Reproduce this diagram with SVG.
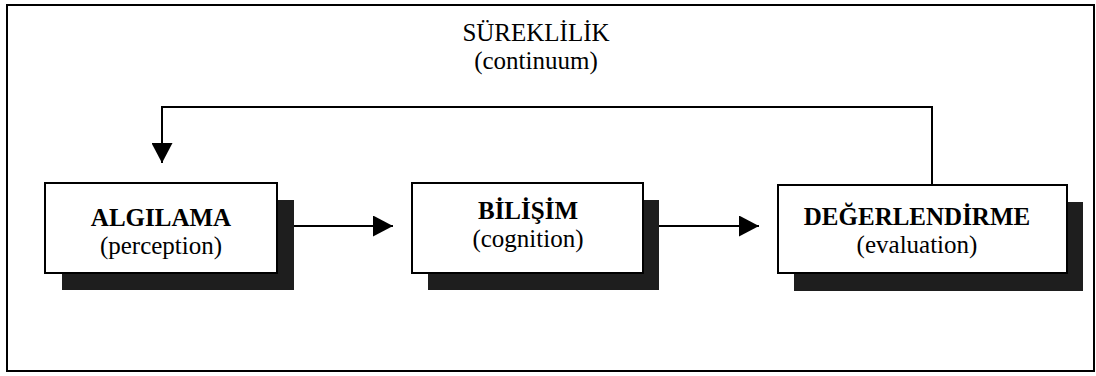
<svg xmlns="http://www.w3.org/2000/svg" width="1096" height="376" viewBox="0 0 1096 376">
<style>
.frame{fill:none;stroke:#000;stroke-width:2}
.box{fill:#fff;stroke:#000;stroke-width:2}
.shadow{fill:#1e1e1e}
.line{fill:none;stroke:#000;stroke-width:2}
.t{font-family:"Liberation Serif","Times New Roman",serif;font-size:25px;fill:#000;text-anchor:middle}
.b{font-weight:bold}
</style>
<defs>
<marker id="ah" markerWidth="20" markerHeight="21" refX="20" refY="10.5" orient="auto" markerUnits="userSpaceOnUse">
<path d="M0,0 L20,10.5 L0,21 Z" fill="#000"/>
</marker>
</defs>
<rect width="1096" height="376" fill="#fff"/>
<rect class="frame" x="7" y="5" width="1087" height="366"/>
<g id="title">
<text class="t" x="536" y="41">SÜREKLİLİK</text>
<text class="t" x="536" y="69">(continuum)</text>
</g>
<g id="connectors">
<path class="line" d="M294,226 H393" marker-end="url(#ah)"/>
<path class="line" d="M659,226 H759" marker-end="url(#ah)"/>
<path class="line" d="M932,185 V107 H162 V163" marker-end="url(#ah)"/>
</g>
<g id="algilama">
<rect class="shadow" x="62" y="200" width="232" height="90"/>
<rect class="box" x="45" y="183" width="232" height="90"/>
<text class="t b" x="161" y="226">ALGILAMA</text>
<text class="t" x="161" y="254">(perception)</text>
</g>
<g id="bilisim">
<rect class="shadow" x="428" y="200" width="231" height="90"/>
<rect class="box" x="412" y="183" width="231" height="90"/>
<text class="t b" x="528" y="219">BİLİŞİM</text>
<text class="t" x="528" y="247">(cognition)</text>
</g>
<g id="degerlendirme">
<rect class="shadow" x="794" y="202" width="289" height="89"/>
<rect class="box" x="778" y="185" width="289" height="88"/>
<text class="t b" x="917" y="225">DEĞERLENDİRME</text>
<text class="t" x="917" y="253">(evaluation)</text>
</g>
</svg>
